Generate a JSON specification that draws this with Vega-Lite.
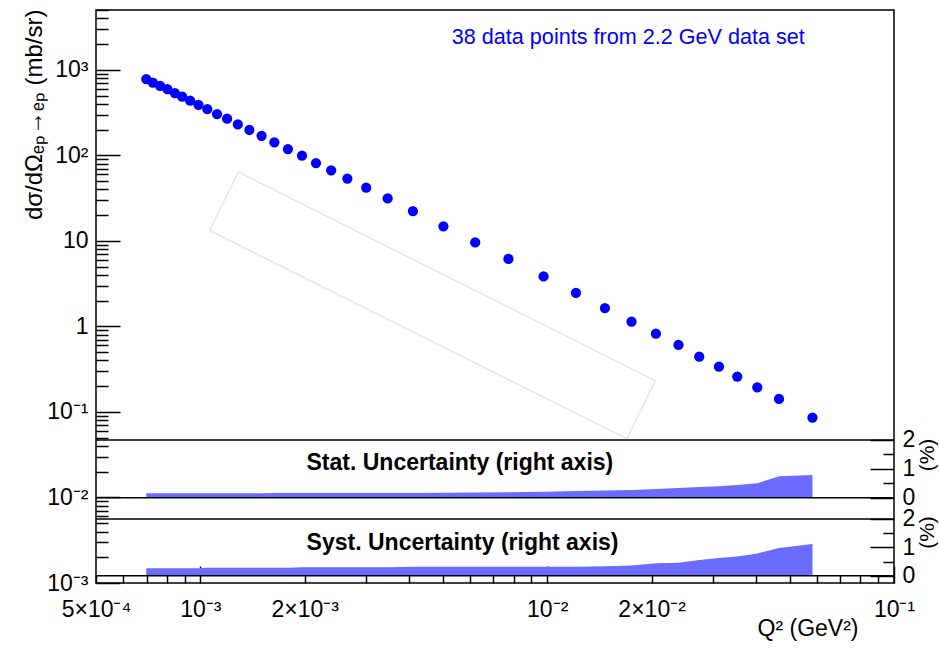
{
  "$schema": "https://vega.github.io/schema/vega-lite/v6.json",
  "width": 798,
  "height": 573,
  "autosize": {"type": "none"},
  "padding": {"left": 96, "top": 10, "right": 45, "bottom": 65},
  "background": "white",
  "config": {
    "view": {"stroke": "black", "strokeWidth": 1.5},
    "font": "Liberation Sans",
    "axis": {
      "labelFont": "Liberation Sans", "titleFont": "Liberation Sans",
      "labelFontSize": 23, "titleFontSize": 23,
      "labelColor": "black", "titleColor": "black", "titleFontWeight": "normal",
      "tickColor": "black", "tickWidth": 1.5,
      "grid": false, "domain": false,
      "labelOverlap": false, "labelFlush": false, "labelBound": false
    }
  },
  "datasets": {
    "pts": [
      {"q": 0.000698, "s": 778, "stat": 0.15, "syst": 0.26},
      {"q": 0.000729, "s": 710, "stat": 0.15, "syst": 0.26},
      {"q": 0.000765, "s": 650, "stat": 0.15, "syst": 0.26},
      {"q": 0.000803, "s": 595, "stat": 0.15, "syst": 0.26},
      {"q": 0.000844, "s": 534, "stat": 0.15, "syst": 0.26},
      {"q": 0.000886, "s": 484, "stat": 0.15, "syst": 0.26},
      {"q": 0.000934, "s": 437, "stat": 0.15, "syst": 0.26},
      {"q": 0.000987, "s": 390, "stat": 0.15, "syst": 0.26},
      {"q": 0.001047, "s": 347, "stat": 0.15, "syst": 0.28},
      {"q": 0.001117, "s": 304, "stat": 0.15, "syst": 0.28},
      {"q": 0.001194, "s": 268, "stat": 0.15, "syst": 0.28},
      {"q": 0.001282, "s": 230, "stat": 0.15, "syst": 0.28},
      {"q": 0.001384, "s": 198, "stat": 0.15, "syst": 0.28},
      {"q": 0.001501, "s": 169, "stat": 0.15, "syst": 0.28},
      {"q": 0.001634, "s": 142, "stat": 0.16, "syst": 0.28},
      {"q": 0.001788, "s": 118.4, "stat": 0.16, "syst": 0.28},
      {"q": 0.001963, "s": 98.9, "stat": 0.16, "syst": 0.30},
      {"q": 0.002154, "s": 81.2, "stat": 0.16, "syst": 0.30},
      {"q": 0.002382, "s": 66.9, "stat": 0.16, "syst": 0.30},
      {"q": 0.002653, "s": 53.5, "stat": 0.16, "syst": 0.30},
      {"q": 0.003006, "s": 41.8, "stat": 0.16, "syst": 0.30},
      {"q": 0.003467, "s": 31.3, "stat": 0.16, "syst": 0.30},
      {"q": 0.0041, "s": 22.3, "stat": 0.16, "syst": 0.32},
      {"q": 0.00502, "s": 14.8, "stat": 0.17, "syst": 0.32},
      {"q": 0.0062, "s": 9.59, "stat": 0.18, "syst": 0.32},
      {"q": 0.00773, "s": 6.14, "stat": 0.19, "syst": 0.32},
      {"q": 0.00976, "s": 3.84, "stat": 0.21, "syst": 0.32},
      {"q": 0.0121, "s": 2.46, "stat": 0.23, "syst": 0.32},
      {"q": 0.01467, "s": 1.64, "stat": 0.25, "syst": 0.33},
      {"q": 0.0175, "s": 1.136, "stat": 0.27, "syst": 0.36},
      {"q": 0.02058, "s": 0.823, "stat": 0.30, "syst": 0.44},
      {"q": 0.02391, "s": 0.607, "stat": 0.34, "syst": 0.46},
      {"q": 0.02744, "s": 0.443, "stat": 0.37, "syst": 0.55},
      {"q": 0.03128, "s": 0.338, "stat": 0.40, "syst": 0.62},
      {"q": 0.03532, "s": 0.259, "stat": 0.44, "syst": 0.68},
      {"q": 0.04034, "s": 0.194, "stat": 0.50, "syst": 0.78},
      {"q": 0.0466, "s": 0.142, "stat": 0.74, "syst": 0.98},
      {"q": 0.0582, "s": 0.0858, "stat": 0.79, "syst": 1.12}
    ],
    "box": [
      {"i": 1, "q": 0.001287, "s": 63.8},
      {"i": 2, "q": 0.02049, "s": 0.2323},
      {"i": 3, "q": 0.01698, "s": 0.0484},
      {"i": 4, "q": 0.001062, "s": 13.25},
      {"i": 5, "q": 0.001287, "s": 63.8}
    ]
  },
  "layer": [
    {
      "layer": [
        {
          "data": {"name": "pts"},
          "mark": {"type": "point", "filled": true, "shape": "circle", "size": 105, "color": "#0000ff", "opacity": 1},
          "encoding": {
            "x": {
              "field": "q", "type": "quantitative",
              "scale": {"type": "log", "domain": [0.0005, 0.1], "nice": false},
              "axis": {
                "orient": "bottom",
                "values": [0.0005, 0.0006, 0.0007, 0.0008, 0.0009, 0.001, 0.002, 0.003, 0.004, 0.005, 0.006, 0.007, 0.008, 0.009, 0.01, 0.02, 0.03, 0.04, 0.05, 0.06, 0.07, 0.08, 0.09, 0.1],
                "labelExpr": "abs(datum.value-0.0005)<1e-9 ? '5×10⁻⁴' : abs(datum.value-0.001)<1e-9 ? '10⁻³' : abs(datum.value-0.002)<1e-9 ? '2×10⁻³' : abs(datum.value-0.01)<1e-9 ? '10⁻²' : abs(datum.value-0.02)<1e-9 ? '2×10⁻²' : abs(datum.value-0.1)<1e-9 ? '10⁻¹' : ''",
                "tickSize": {"condition": {"test": "abs(log(datum.value)/LN10 - round(log(datum.value)/LN10)) < 0.001", "value": -17}, "value": -8},
                "labelPadding": {"condition": {"test": "abs(log(datum.value)/LN10 - round(log(datum.value)/LN10)) < 0.001", "value": 32}, "value": 23},
                "title": "Q² (GeV²)",
                "titleX": 762, "titleY": 52, "titleAlign": "right", "titleBaseline": "alphabetic", "titleAngle": 0
              }
            },
            "y": {
              "field": "s", "type": "quantitative",
              "scale": {"type": "log", "domain": [0.001, 5000], "nice": false},
              "axis": {
                "orient": "left",
                "values": [0.001, 0.002, 0.003, 0.004, 0.005, 0.006, 0.007, 0.008, 0.009, 0.01, 0.02, 0.03, 0.04, 0.05, 0.06, 0.07, 0.08, 0.09, 0.1, 0.2, 0.3, 0.4, 0.5, 0.6, 0.7, 0.8, 0.9, 1, 2, 3, 4, 5, 6, 7, 8, 9, 10, 20, 30, 40, 50, 60, 70, 80, 90, 100, 200, 300, 400, 500, 600, 700, 800, 900, 1000, 2000, 3000, 4000, 5000],
                "labelExpr": "abs(log(datum.value)/LN10 - round(log(datum.value)/LN10)) > 0.001 ? '' : round(log(datum.value)/LN10) == 3 ? '10³' : round(log(datum.value)/LN10) == 2 ? '10²' : round(log(datum.value)/LN10) == 1 ? '10' : round(log(datum.value)/LN10) == 0 ? '1' : round(log(datum.value)/LN10) == -1 ? '10⁻¹' : round(log(datum.value)/LN10) == -2 ? '10⁻²' : '10⁻³'",
                "tickSize": {"condition": {"test": "abs(log(datum.value)/LN10 - round(log(datum.value)/LN10)) < 0.001", "value": -24}, "value": -12},
                "labelPadding": 32,
                "title": "dσ/dΩₑₚ→ₑₚ (mb/sr)",
                "titleFontSize": 24,
                "titleAngle": -90, "titleX": -55, "titleY": -1, "titleAlign": "right", "titleBaseline": "alphabetic"
              }
            }
          }
        },
        {
          "data": {"name": "box"},
          "mark": {"type": "line", "color": "#cfcfcf", "strokeWidth": 0.8, "interpolate": "linear"},
          "encoding": {
            "x": {"field": "q", "type": "quantitative"},
            "y": {"field": "s", "type": "quantitative"},
            "order": {"field": "i", "type": "quantitative"}
          }
        },
        {
          "data": {"values": [{}]},
          "mark": {"type": "text", "text": "38 data points from 2.2 GeV data set", "font": "Liberation Sans", "fontSize": 21.6, "color": "#0000ff", "align": "center", "baseline": "middle"},
          "encoding": {
            "x": {"datum": 0.01713, "type": "quantitative"},
            "y": {"datum": 2366, "type": "quantitative"}
          }
        }
      ]
    },
    {
      "layer": [
        {
          "data": {"name": "pts"},
          "mark": {"type": "area", "color": "#6b6bff", "opacity": 1, "interpolate": "linear"},
          "encoding": {
            "x": {"field": "q", "type": "quantitative"},
            "y": {
              "field": "stat", "type": "quantitative",
              "scale": {"type": "linear", "domain": [-2.957, 16.904], "nice": false, "zero": false},
              "axis": {
                "orient": "right",
                "values": [0, 0.5, 1, 1.5, 2],
                "labelExpr": "datum.value == 0 ? '0' : datum.value == 1 ? '1' : datum.value == 2 ? '2' : ''",
                "tickSize": {"condition": {"test": "datum.value == round(datum.value)", "value": -24}, "value": -11},
                "labelPadding": 32,
                "title": "(%)",
                "titleFontSize": 21,
                "titleAngle": -90, "titleX": 33, "titleY": 444.5, "titleAlign": "center", "titleBaseline": "middle"
              }
            },
            "y2": {"datum": 0}
          }
        },
        {
          "data": {"values": [{"v": 0}, {"v": 2}]},
          "mark": {"type": "rule", "color": "black", "strokeWidth": 1.5},
          "encoding": {"y": {"field": "v", "type": "quantitative"}}
        },
        {
          "data": {"values": [{}]},
          "mark": {"type": "text", "text": "Stat. Uncertainty (right axis)", "font": "Liberation Sans", "fontWeight": "bold", "fontSize": 23, "color": "black", "align": "center", "baseline": "middle"},
          "encoding": {
            "x": {"datum": 0.0056, "type": "quantitative"},
            "y": {"datum": 1.2, "type": "quantitative"}
          }
        }
      ]
    },
    {
      "layer": [
        {
          "data": {"name": "pts"},
          "mark": {"type": "area", "color": "#6b6bff", "opacity": 1, "interpolate": "linear"},
          "encoding": {
            "x": {"field": "q", "type": "quantitative"},
            "y": {
              "field": "syst", "type": "quantitative",
              "scale": {"type": "linear", "domain": [-0.2575, 19.954], "nice": false, "zero": false},
              "axis": {
                "orient": "right",
                "values": [0, 0.5, 1, 1.5, 2],
                "labelExpr": "datum.value == 0 ? '0' : datum.value == 1 ? '1' : datum.value == 2 ? '2' : ''",
                "tickSize": {"condition": {"test": "datum.value == round(datum.value)", "value": -24}, "value": -11},
                "labelPadding": 32,
                "title": "(%)",
                "titleFontSize": 21,
                "titleAngle": -90, "titleX": 33, "titleY": 522, "titleAlign": "center", "titleBaseline": "middle"
              }
            },
            "y2": {"datum": 0}
          }
        },
        {
          "data": {"values": [{"v": 0}, {"v": 2}]},
          "mark": {"type": "rule", "color": "black", "strokeWidth": 1.5},
          "encoding": {"y": {"field": "v", "type": "quantitative"}}
        },
        {
          "data": {"values": [{}]},
          "mark": {"type": "text", "text": "Syst. Uncertainty (right axis)", "font": "Liberation Sans", "fontWeight": "bold", "fontSize": 23, "color": "black", "align": "center", "baseline": "middle"},
          "encoding": {
            "x": {"datum": 0.0057, "type": "quantitative"},
            "y": {"datum": 1.15, "type": "quantitative"}
          }
        }
      ]
    }
  ],
  "resolve": {"scale": {"y": "independent"}}
}
